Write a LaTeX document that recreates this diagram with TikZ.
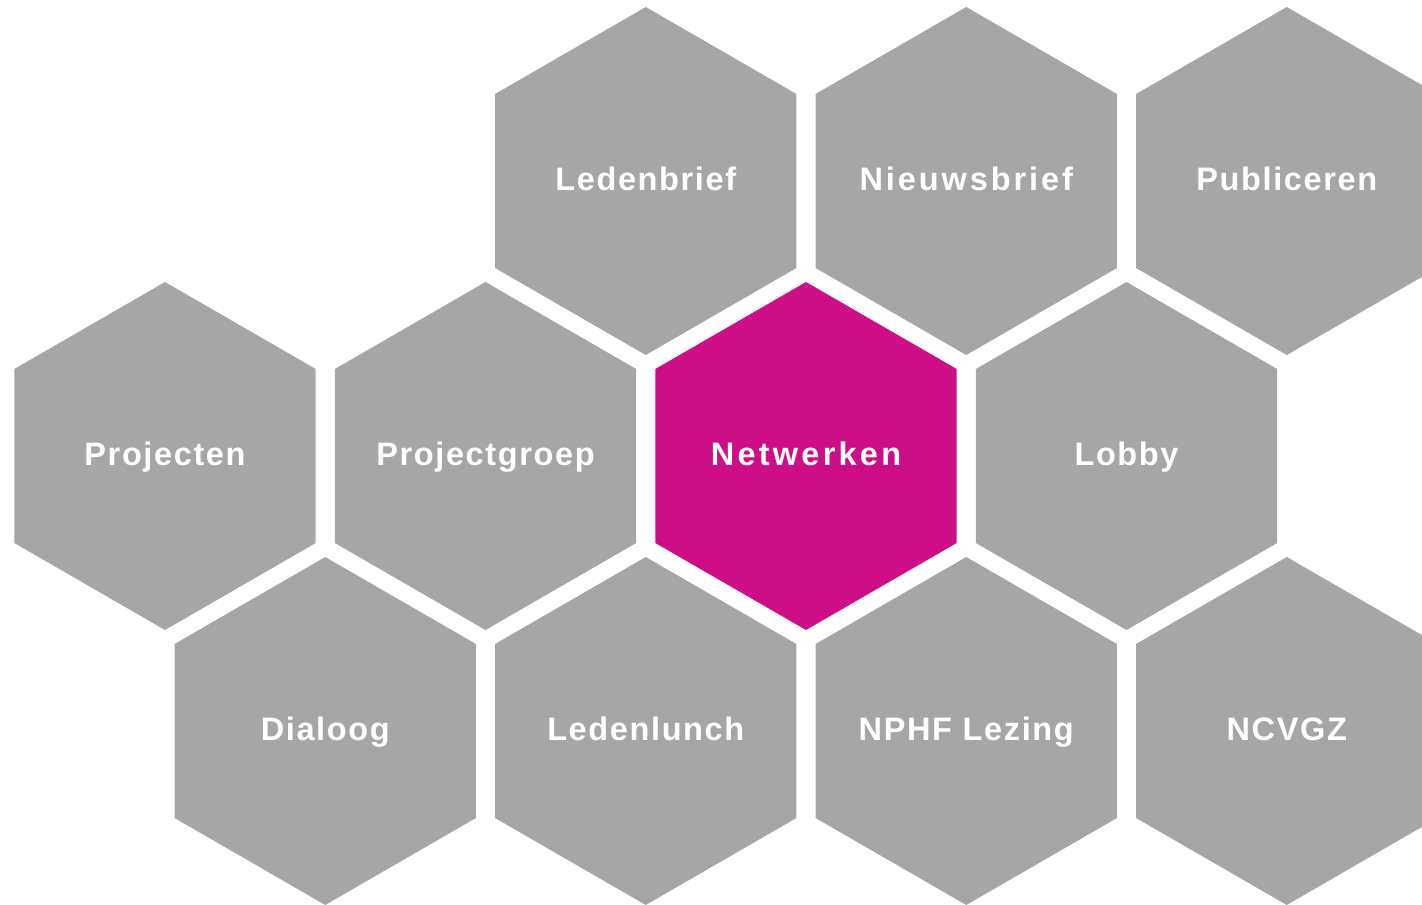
\documentclass[tikz,border=0pt]{standalone}
\usepackage{fontspec}
\setmainfont{Liberation Sans}[LetterSpace=5]
\usetikzlibrary{shapes.geometric}
\definecolor{hexgrey}{HTML}{A6A6A6}
\definecolor{hexpink}{HTML}{CE0E87}
\tikzset{
  hexa/.style={regular polygon, regular polygon sides=6, shape border rotate=30,
    minimum size=348pt, inner sep=0pt, outer sep=0pt, fill=hexgrey, draw=none},
  hexhi/.style={hexa, fill=hexpink},
  lbl/.style={anchor=base, text=white, font=\bfseries\fontsize{32.5}{38}\selectfont, inner sep=0pt}
}
\begin{document}
\begin{tikzpicture}[x=1pt,y=-1pt]
\useasboundingbox (0,0) rectangle (1422,905);
\clip (0,0) rectangle (1422,905);
% row 1
\node[hexa] (h1) at (645.75,181) {};
\node[hexa] (h2) at (966.25,181) {};
\node[hexa] (h3) at (1286.75,181) {};
% row 2
\node[hexa] (h4) at (165,456) {};
\node[hexa] (h5) at (485.5,456) {};
\node[hexhi] (h6) at (806,456) {};
\node[hexa] (h7) at (1126.5,456) {};
% row 3
\node[hexa] (h8) at (325.25,731) {};
\node[hexa] (h9) at (645.75,731) {};
\node[hexa] (h10) at (966.25,731) {};
\node[hexa] (h11) at (1286.75,731) {};
% labels
\node[lbl] (t1) at ([yshift=-9pt]h1.center) {Ledenbrief};
\node[lbl] (t2) at ([yshift=-9pt]h2.center) {\addfontfeature{LetterSpace=9}Nieuwsbrief};
\node[lbl] (t3) at ([yshift=-9pt]h3.center) {Publiceren};
\node[lbl] (t4) at ([yshift=-9pt]h4.center) {Projecten};
\node[lbl] (t5) at ([yshift=-9pt]h5.center) {Projectgroep};
\node[lbl] (t6) at ([yshift=-9pt]h6.center) {\addfontfeature{LetterSpace=10}Netwerken};
\node[lbl] (t7) at ([yshift=-9pt]h7.center) {Lobby};
\node[lbl] (t8) at ([yshift=-9pt]h8.center) {Dialoog};
\node[lbl] (t9) at ([yshift=-9pt]h9.center) {Ledenlunch};
\node[lbl] (t10) at ([yshift=-9pt]h10.center) {NPHF Lezing};
\node[lbl] (t11) at ([yshift=-9pt]h11.center) {NCVGZ};
\end{tikzpicture}
\end{document}
